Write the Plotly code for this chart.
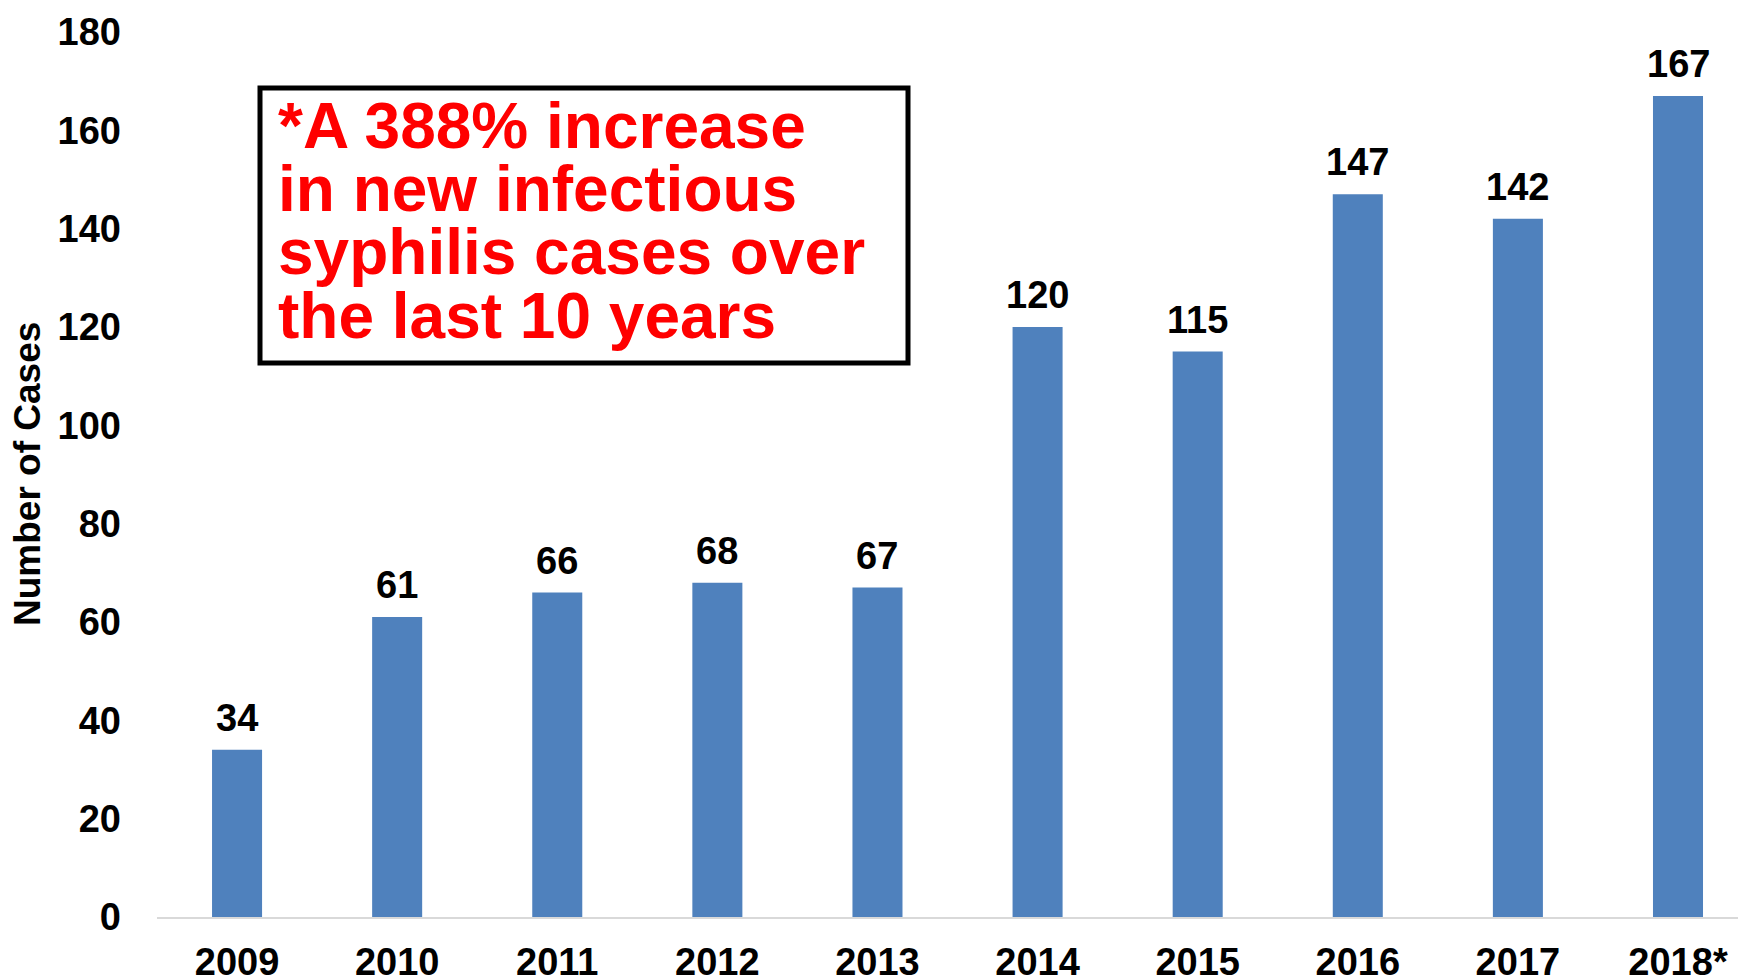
import plotly.graph_objects as go

years = ["2009", "2010", "2011", "2012", "2013", "2014", "2015", "2016", "2017", "2018*"]
cases = [34, 61, 66, 68, 67, 120, 115, 147, 142, 167]
y_ticks = [0, 20, 40, 60, 80, 100, 120, 140, 160, 180]
note_lines = ["*A 388% increase", "in new infectious", "syphilis cases over", "the last 10 years"]
y_title = "Number of Cases"

OFF = 8  # page body margin in the browser
SW, SH = 1746, 980  # screen size
W, H = SW - OFF, SH - OFF
# plot area in screen pixels
PL, PR, PT, PB = 157, 1746, 32, 917
L, R, T, B = PL - OFF, SW - PR, PT - OFF, SH - PB
pw, ph = PR - PL, PB - PT

def px(x):
    return (x - PL) / pw

def py(y):
    return (PB - y) / ph

FONT = "Liberation Sans, Arial, sans-serif"

fig = go.Figure()
fig.add_trace(go.Bar(
    x=list(range(len(years))), y=cases,
    marker=dict(color="#4F81BD", line=dict(width=0)),
    width=0.3125, hoverinfo="skip",
))

for i, v in enumerate(cases):
    fig.add_annotation(x=i, y=v, xref="x", yref="y", text=str(v), showarrow=False,
                       yanchor="bottom", yshift=9,
                       font=dict(family=FONT, size=38, color="black", weight="bold"))

# note box
fig.add_shape(type="rect", xref="paper", yref="paper",
              x0=px(260), x1=px(908), y0=py(88), y1=py(363),
              line=dict(color="black", width=5), fillcolor="white", layer="above")
line_centers = [126, 189, 252, 316]
for t, cy in zip(note_lines, line_centers):
    fig.add_annotation(xref="paper", yref="paper", x=px(276), y=py(cy), text=t,
                       showarrow=False, xanchor="left", yanchor="middle",
                       font=dict(family=FONT, size=64, color="#FF0000", weight="bold"))

fig.add_annotation(xref="paper", yref="paper", x=px(27), y=py(474), text=y_title,
                   showarrow=False, textangle=-90, xanchor="center", yanchor="middle",
                   font=dict(family=FONT, size=37, color="black", weight="bold"))

fig.update_layout(
    template="none",
    width=W, height=H,
    margin=dict(l=L, r=R, t=T, b=B, pad=0, autoexpand=False),
    paper_bgcolor="white", plot_bgcolor="white",
    showlegend=False,
    xaxis=dict(
        automargin=False,
        range=[-0.5, 9 + (PR - 1678) / 160.1],
        tickmode="array", tickvals=list(range(len(years))), ticktext=years,
        showgrid=False, zeroline=False,
        showline=True, linecolor="#D9D9D9", linewidth=2,
        ticks="", ticklabelstandoff=10,
        tickfont=dict(family=FONT, size=38, color="black", weight="bold"),
    ),
    yaxis=dict(
        automargin=False,
        range=[0, 180], tickmode="array", tickvals=y_ticks,
        showgrid=False, zeroline=False, showline=False,
        ticks="", ticklabelstandoff=35,
        tickfont=dict(family=FONT, size=38, color="black", weight="bold"),
    ),
)

fig.write_html("out.html")
